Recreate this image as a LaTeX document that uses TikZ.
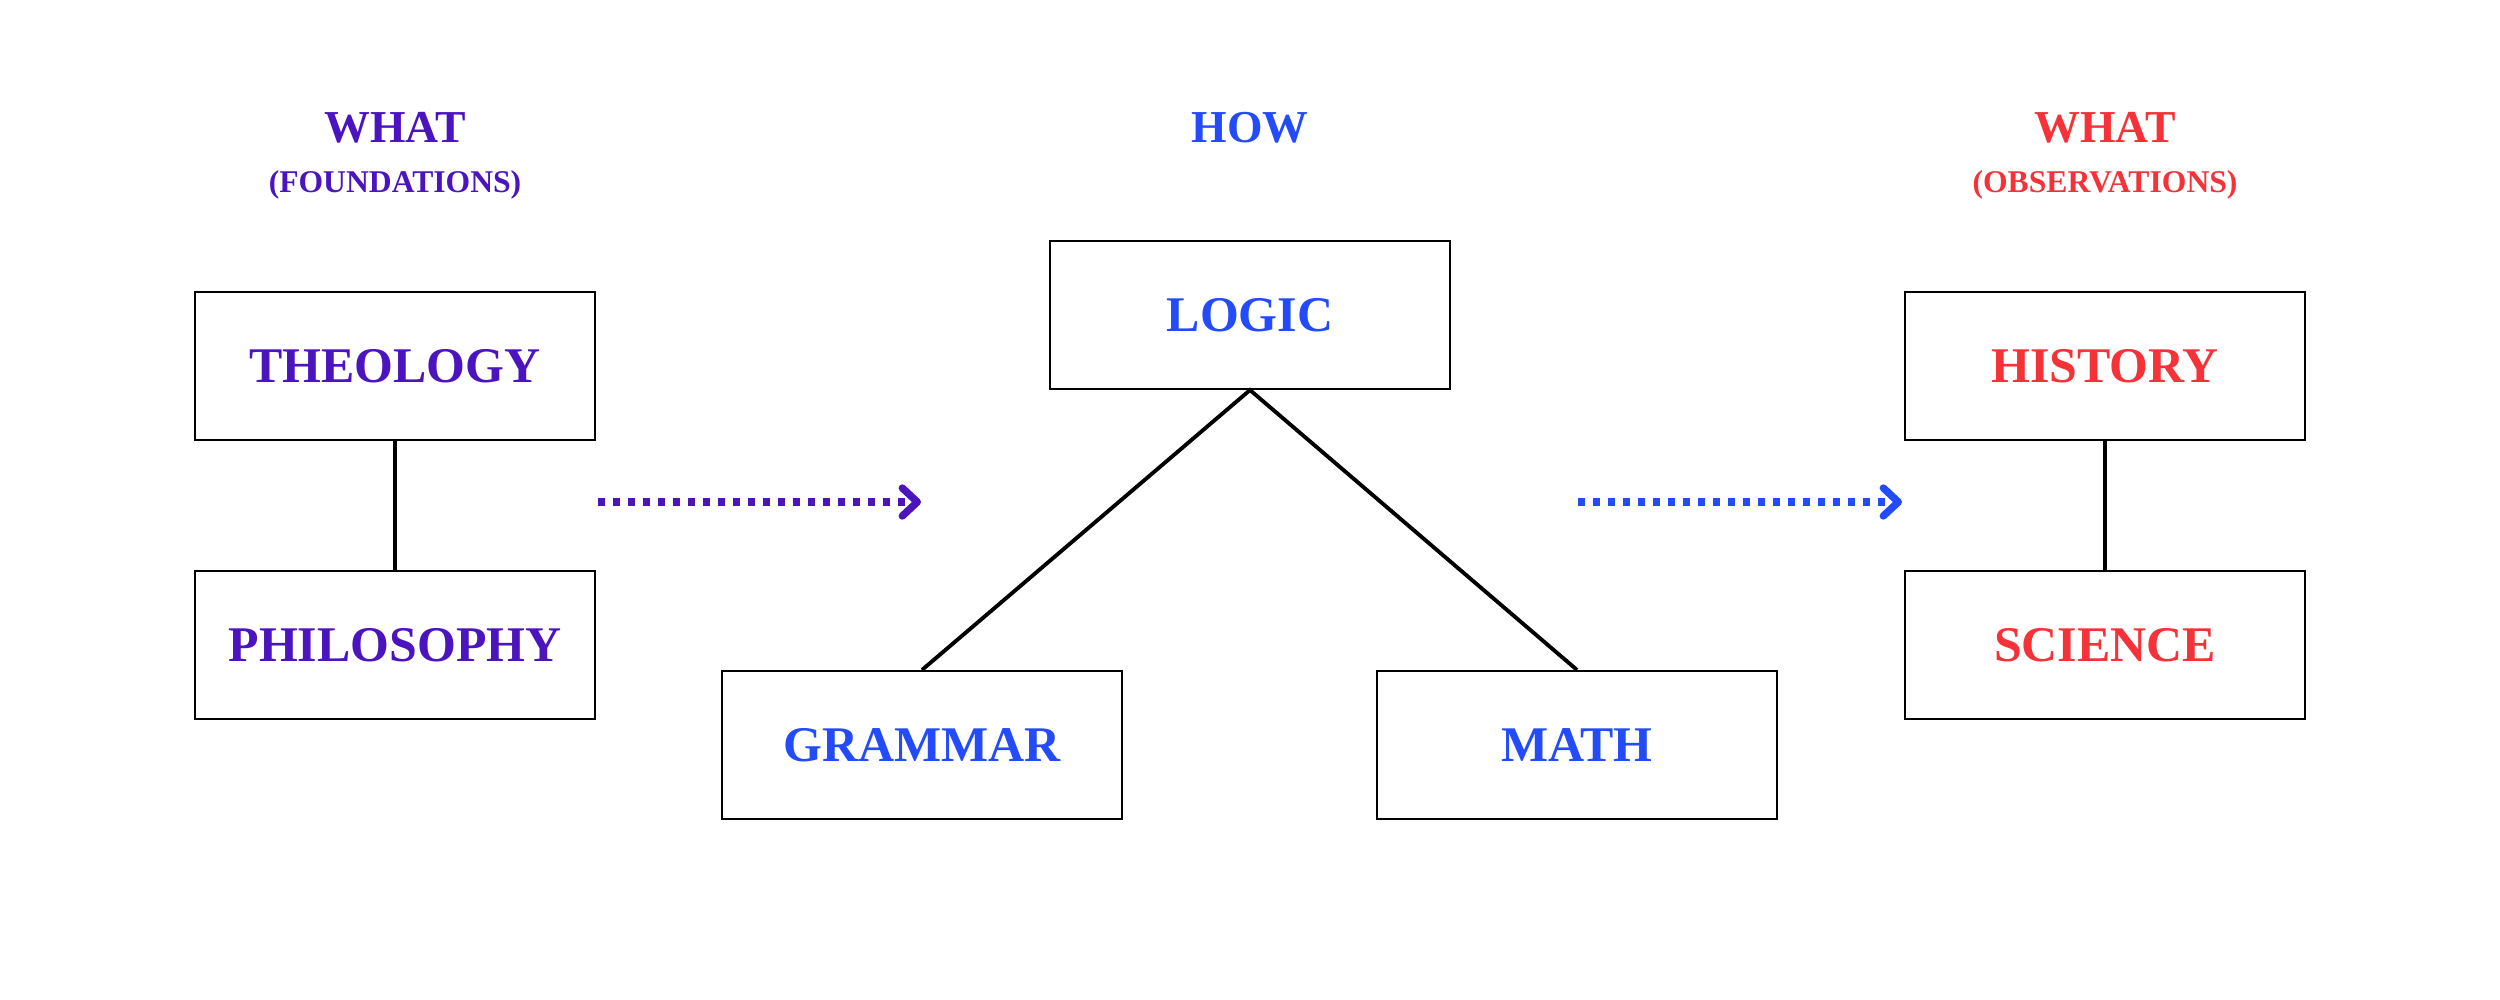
\documentclass[tikz,border=0pt]{standalone}
\usepackage{fontspec}
\setmainfont{Liberation Serif}
\usetikzlibrary{positioning,arrows.meta}

\definecolor{purp}{RGB}{75,20,190}
\definecolor{blu}{RGB}{35,75,250}
\definecolor{rd}{RGB}{245,50,55}

\begin{document}
\begin{tikzpicture}[
    box/.style={draw=black,line width=.6pt,minimum width=4cm,minimum height=1.48cm,
      font=\fontsize{14.2}{16}\selectfont\bfseries,text depth=0pt},
    head/.style={font=\fontsize{13}{15}\selectfont\bfseries,anchor=base},
    sub/.style={font=\fontsize{9}{11}\selectfont\bfseries,anchor=base},
    link/.style={line width=1.1pt},
    flow/.style={line width=2pt,dash pattern=on 2pt off 2.27pt,
      -{Straight Barb[length=1.5mm,width=2.8mm,line width=2.1pt,round]}}
  ]
  \useasboundingbox (0,0) rectangle (25,-10);

  % left column
  \node[head,text=purp] (whatL) at (3.95,-1.43) {WHAT};
  \node[sub,text=purp] (foundL) at (3.95,-1.93) {(FOUNDATIONS)};
  \node[box,text=purp] (theo) at (3.95,-3.66) {THEOLOGY};
  \node[box,text=purp] (phil) at (3.95,-6.45) {PHILOSOPHY};
  \draw[link] (theo) -- (phil);

  % middle
  \node[head,text=blu] (how) at (12.5,-1.43) {HOW};
  \node[box,text=blu] (logic) at (12.5,-3.15) {LOGIC};
  \node[box,text=blu] (gram) at (9.22,-7.45) {GRAMMAR};
  \node[box,text=blu] (math) at (15.77,-7.45) {MATH};
  \draw[link] (gram.north) -- (logic.south) -- (math.north);

  % right column
  \node[head,text=rd] (whatR) at (21.05,-1.43) {WHAT};
  \node[sub,text=rd] (obsR) at (21.05,-1.93) {(OBSERVATIONS)};
  \node[box,text=rd] (hist) at (21.05,-3.66) {HISTORY};
  \node[box,text=rd] (sci) at (21.05,-6.45) {SCIENCE};
  \draw[link] (hist) -- (sci);

  % arrows
  \coordinate (a1) at (5.98,-5.02);
  \coordinate (a2) at (9.21,-5.02);
  \coordinate (b1) at (15.78,-5.02);
  \coordinate (b2) at (19.02,-5.02);
  \draw[flow,purp] (a1) -- (a2);
  \draw[flow,blu] (b1) -- (b2);
\end{tikzpicture}
\end{document}
